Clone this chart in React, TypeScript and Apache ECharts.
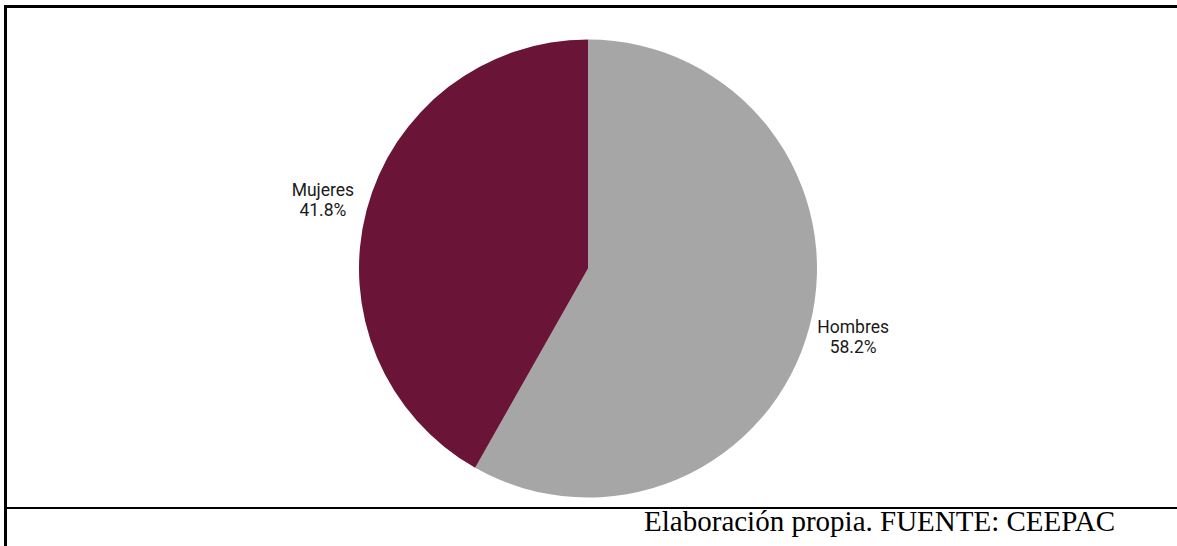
import React, { useEffect, useRef } from "react";
import * as echarts from "echarts";

const categories = ["Hombres", "Mujeres"];
const values = [58.2, 41.8];
const colors = ["#A6A6A6", "#6A1537"];
const footerText = "Elaboración propia. FUENTE: CEEPAC";

const rule = (s: React.CSSProperties): React.CSSProperties => ({
  position: "absolute",
  background: "#000",
  ...s,
});

export default function App() {
  const ref = useRef<HTMLDivElement>(null);
  useEffect(() => {
    document.body.style.margin = "0";
    document.body.style.overflow = "hidden";
    const chart = echarts.init(ref.current!, null, { renderer: "svg" });
    chart.setOption({
      animation: false,
      backgroundColor: "#ffffff",
      title: {
        text: footerText,
        right: 62,
        top: 506,
        padding: 0,
        textStyle: {
          fontFamily: "Liberation Serif",
          fontSize: 29,
          fontWeight: "normal",
          color: "#000000",
        },
      },
      series: [
        {
          type: "pie",
          center: [588, 268.5],
          radius: 229,
          startAngle: 90,
          clockwise: true,
          data: categories.map((c, i) => ({
            name: c,
            value: values[i],
            itemStyle: { color: colors[i] },
          })),
          label: {
            show: true,
            position: "outside",
            formatter: (p: any) => `${p.name}\n${p.value.toFixed(1)}%`,
            fontFamily: "Roboto",
            fontSize: 17.5,
            lineHeight: 20,
            color: "#1a1a1a",
          },
          labelLine: { show: false, length: 40, length2: 0 },
          labelLayout: { align: "center" },
          emphasis: { disabled: true },
        },
      ],
    });
    return () => chart.dispose();
  }, []);
  return (
    <div style={{ position: "relative", width: 1177, height: 546, overflow: "hidden" }}>
      <div ref={ref} style={{ width: 1177, height: 546 }} />
      <div style={rule({ left: 4, top: 5, width: 2.5, height: 541 })} />
      <div style={rule({ left: 4, top: 5, width: 1200, height: 2.5 })} />
      <div style={rule({ left: 4, top: 507, width: 1200, height: 2 })} />
    </div>
  );
}
